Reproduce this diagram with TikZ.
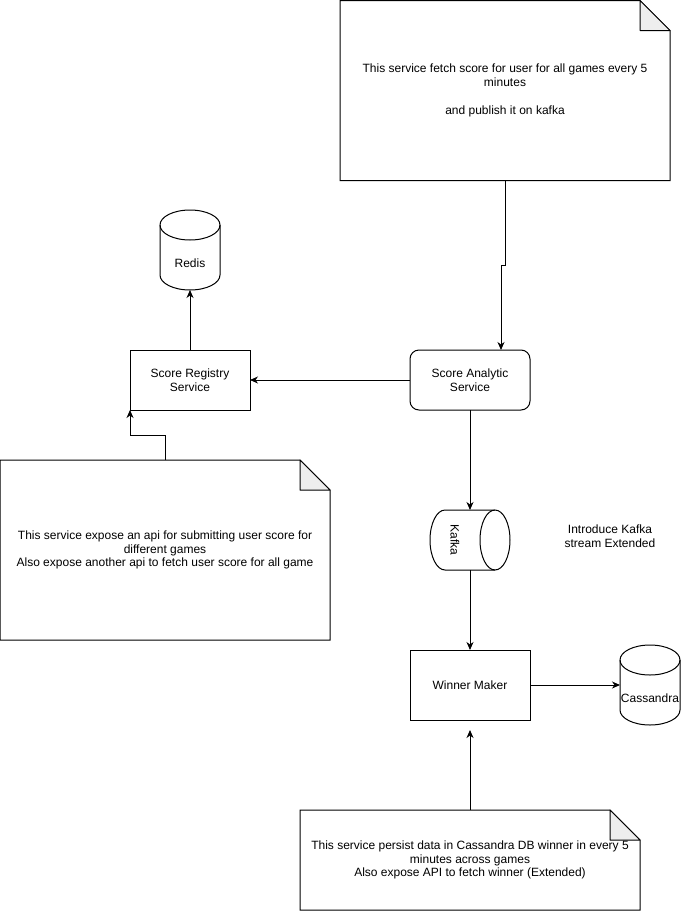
\documentclass[tikz,border=0pt]{standalone}
\usepackage{fontspec}
\setmainfont{Liberation Sans}
\usetikzlibrary{arrows.meta,backgrounds,calc}
\definecolor{foldgray}{HTML}{EEEEEE}
\tikzset{
  every node/.style={inner sep=0pt,outer sep=0pt,font=\fontsize{12}{13.8}\selectfont,align=center},
  box/.style={draw,line width=1pt,minimum width=120pt,minimum height=60pt},
  shapebox/.style={minimum width=#1},
  arr/.style={line width=1pt,-{Stealth[length=8pt,width=7pt,inset=2.5pt]}},
  outline/.style={line width=1pt,fill=white},
}
\newcommand{\notedraw}[1]{%
  \draw[outline] (#1.north west) -- ([xshift=-30pt]#1.north east) -- ([yshift=-30pt]#1.north east) -- (#1.south east) -- (#1.south west) -- cycle;
  \draw[line width=1pt,fill=foldgray,line join=round] ([xshift=-30pt]#1.north east) -- ([xshift=-30pt,yshift=-30pt]#1.north east) -- ([yshift=-30pt]#1.north east) -- cycle;}
\newcommand{\vcyl}[1]{%
  \draw[outline] ([yshift=-15pt]#1.north west) arc[start angle=180,end angle=0,x radius=30pt,y radius=15pt] -- ([yshift=15pt]#1.south east) arc[start angle=0,end angle=-180,x radius=30pt,y radius=15pt] -- cycle;
  \draw[line width=1pt] ([yshift=-15pt]#1.north west) arc[start angle=180,end angle=360,x radius=30pt,y radius=15pt];}
\begin{document}
\begin{tikzpicture}[x=1pt,y=-1pt]
\useasboundingbox (0,0) rectangle (681,911);
% notes (text nodes)
\node[minimum width=330pt,minimum height=180pt] (n1) at (505,90.5) {This service fetch score for user for all games every 5\\minutes\\[13.8pt]and publish it on kafka};
\node[minimum width=330pt,minimum height=180pt] (n2) at (165,550) {This service expose an api for submitting user score for\\different games\\Also expose another api to fetch user score for all game};
\node[minimum width=340pt,minimum height=100pt] (n3) at (470,860) {This service persist data in Cassandra DB winner in every 5\\minutes across games\\Also expose API to fetch winner (Extended)};
\begin{scope}[on background layer]
\notedraw{n1}
\notedraw{n2}
\notedraw{n3}
\end{scope}
% services
\node[box] (sr) at (190,380) {Score Registry\\Service};
\node[box,rounded corners=9pt] (sa) at (470,380) {Score Analytic\\Service};
\node[box,minimum height=70pt] (wm) at (470,685) {Winner Maker};
% cylinders
\node[minimum width=60pt,minimum height=80pt] (redis) at (190,250) {};
\node[minimum width=60pt,minimum height=80pt] (cas) at (650,685) {};
\node[minimum width=80pt,minimum height=60pt] (kafka) at (470,540) {};
\begin{scope}[on background layer]
\vcyl{redis}
\vcyl{cas}
\draw[outline] ([xshift=-15pt]kafka.north east) arc[start angle=90,end angle=-90,x radius=15pt,y radius=30pt] -- ([xshift=15pt]kafka.south west) arc[start angle=270,end angle=90,x radius=15pt,y radius=30pt] -- cycle;
\draw[line width=1pt] ([xshift=-15pt]kafka.north east) arc[start angle=90,end angle=270,x radius=15pt,y radius=30pt];
\end{scope}
\node (redislbl) at ($(redis.center)+(0,13)$) {Redis};
\node (caslbl) at ($(cas.center)+(0,13)$) {Cassandra};
\node[rotate=-90] (kafkalbl) at ($(kafka.center)+(-15,0)$) {Kafka};
\node (intro) at (610,536) {Introduce Kafka\\stream Extended};
% connectors
\coordinate (j1) at (501,265);
\coordinate (j2) at (130,435);
\draw[arr] (n1.south) |- (j1) -- (j1 |- sa.north);
\draw[arr] (sa.west) -- (sr.east);
\draw[arr] (sr.north) -- (redis.south);
\draw[arr] (n2.north) |- (j2) -- (sr.south west);
\draw[arr] (sa.south) -- (kafka.north);
\draw[arr] (kafka.south) -- (wm.north);
\draw[arr] (wm.east) -- (cas.west);
\draw[arr,shorten >=10pt] (n3.north) -- (wm.south);
\end{tikzpicture}
\end{document}
